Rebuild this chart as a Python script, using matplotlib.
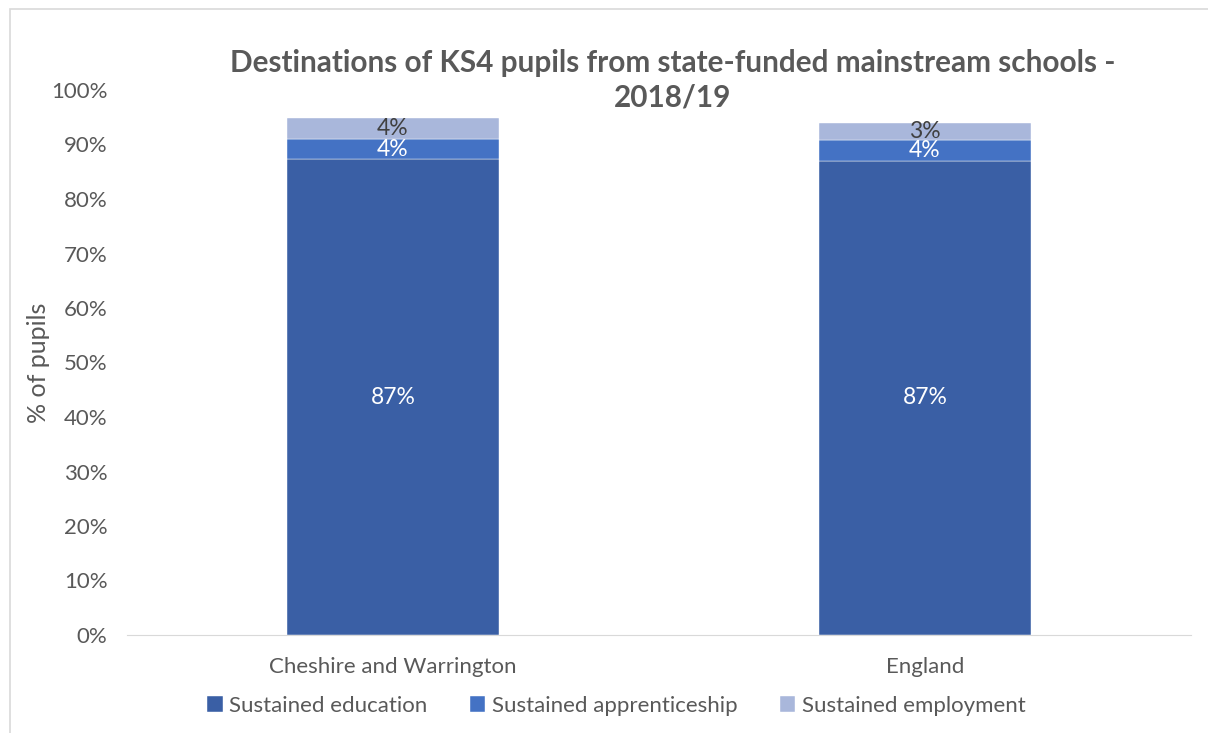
import matplotlib
matplotlib.use("Agg")
import matplotlib.pyplot as plt
from matplotlib.patches import Rectangle
import numpy as np

areas = ["Cheshire and Warrington", "England"]
series = ["Sustained education", "Sustained apprenticeship", "Sustained employment"]
education = [87.3, 87.0]
apprenticeship = [3.7, 3.8]
employment = [3.9, 3.1]

COLORS = ["#3A5FA5", "#4472C4", "#A9B7DB"]
LABEL_COLORS = ["white", "white", "#404040"]
GREY = "#595959"

plt.rcParams["font.family"] = ["Lato", "DejaVu Sans"]

fig = plt.figure(figsize=(12.08, 7.33), dpi=100)
# chart frame
fig.patches.append(Rectangle((10 / 1208, -0.05), 1.2, 1 - 9 / 733 + 0.05, transform=fig.transFigure,
                             fill=False, edgecolor="#D9D9D9", linewidth=1.2))

ax = fig.add_axes([127 / 1208, 1 - 635 / 733, (1191 - 127) / 1208, (635 - 90) / 733])
x = np.arange(len(areas))
bottom = np.zeros(len(areas))
for vals, name, col, lcol in zip([education, apprenticeship, employment], series, COLORS, LABEL_COLORS):
    vals = np.array(vals)
    ax.bar(x, vals, 0.4, bottom=bottom, color=col, label=name, edgecolor="white", linewidth=0.3)
    for xi, b, v in zip(x, bottom, vals):
        ax.text(xi, b + v / 2, f"{v:.0f}%", ha="center", va="center", color=lcol, fontsize=16.5)
    bottom += vals

ax.set_xlim(-0.5, 1.5)
ax.set_ylim(0, 100)
ax.set_yticks(np.arange(0, 101, 10))
ax.set_yticklabels([f"{v}%" for v in range(0, 101, 10)])
ax.set_xticks(x)
ax.set_xticklabels(areas)
ax.tick_params(axis="both", length=0, labelsize=16, colors=GREY)
ax.tick_params(axis="x", pad=16)
ax.tick_params(axis="y", pad=14)
for side in ["top", "right", "left"]:
    ax.spines[side].set_visible(False)
ax.spines["bottom"].set_color("#D9D9D9")
ax.set_ylabel("% of pupils", fontsize=18, color=GREY, labelpad=1)

fig.text(673 / 1208, 1 - 80 / 733,
         "Destinations of KS4 pupils from state-funded mainstream schools -\n2018/19",
         ha="center", va="center", fontsize=21.4, fontweight="bold", color=GREY, linespacing=1.3)

ax.legend(loc="center", bbox_to_anchor=(0.46, -0.13), ncol=3, frameon=False, fontsize=16,
          labelcolor=GREY, handlelength=0.7, handleheight=0.7, handletextpad=0.3, columnspacing=1.9)

fig.savefig("out.png", dpi=100)
